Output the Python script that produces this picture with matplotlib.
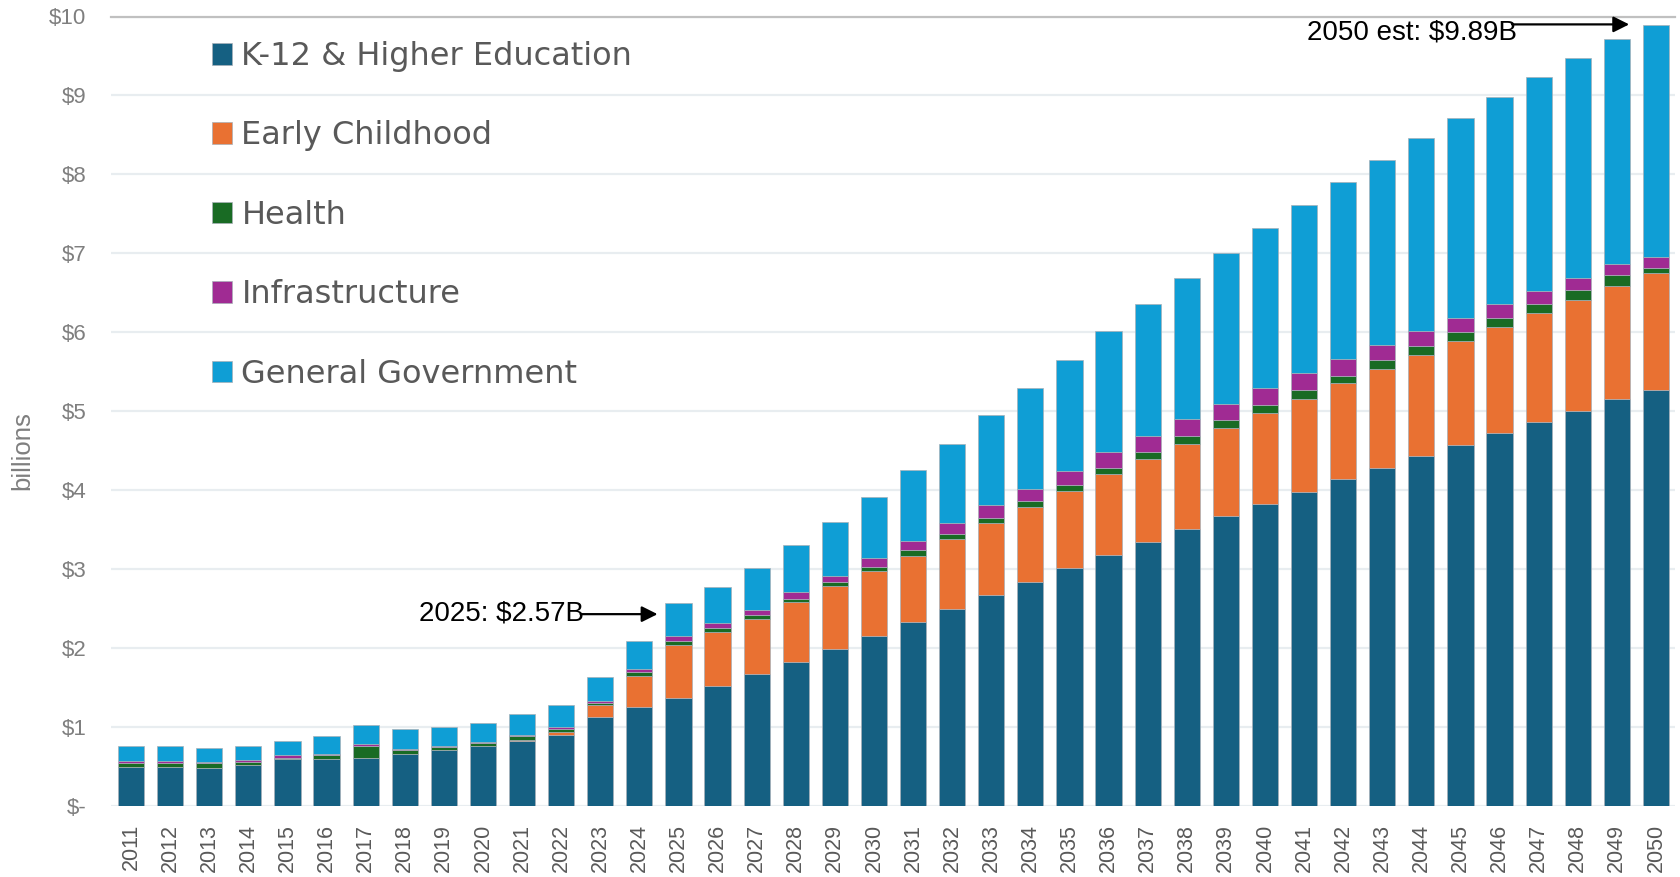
import numpy as np
import matplotlib
matplotlib.use('Agg')
import matplotlib.pyplot as plt

plt.rcParams['font.family'] = ['Liberation Sans', 'DejaVu Sans']

years = [str(y) for y in range(2011, 2051)]

# values in billions
k12 = [0.50, 0.50, 0.48, 0.52, 0.59, 0.59, 0.61, 0.66, 0.71, 0.76,
       0.82, 0.90, 1.13, 1.26, 1.37, 1.52, 1.67, 1.83, 1.99, 2.155,
       2.33, 2.49, 2.67, 2.835, 3.01, 3.18, 3.34, 3.51, 3.67, 3.83,
       3.98, 4.14, 4.285, 4.43, 4.575, 4.72, 4.87, 5.00, 5.15, 5.27]
early = [0, 0, 0, 0, 0, 0, 0, 0, 0, 0,
         0.02, 0.04, 0.15, 0.39, 0.67, 0.68, 0.70, 0.75, 0.80, 0.825,
         0.84, 0.89, 0.91, 0.955, 0.98, 1.02, 1.06, 1.08, 1.12, 1.15,
         1.18, 1.22, 1.245, 1.28, 1.315, 1.35, 1.38, 1.41, 1.44, 1.48]
health = [0.05, 0.05, 0.06, 0.04, 0.02, 0.05, 0.15, 0.05, 0.035, 0.035,
          0.045, 0.04, 0.02, 0.05, 0.05, 0.055, 0.05, 0.045, 0.05, 0.05,
          0.07, 0.07, 0.07, 0.07, 0.07, 0.085, 0.08, 0.10, 0.095, 0.10,
          0.11, 0.09, 0.12, 0.12, 0.12, 0.115, 0.11, 0.13, 0.13, 0.06]
infra = [0.02, 0.02, 0.02, 0.02, 0.03, 0.02, 0.02, 0.015, 0.015, 0.015,
         0.015, 0.015, 0.025, 0.03, 0.065, 0.06, 0.06, 0.085, 0.075, 0.115,
         0.115, 0.13, 0.16, 0.16, 0.185, 0.195, 0.21, 0.21, 0.21, 0.21,
         0.21, 0.215, 0.19, 0.19, 0.175, 0.175, 0.16, 0.15, 0.15, 0.15]
gen_gov = [0.19, 0.19, 0.18, 0.18, 0.18, 0.23, 0.24, 0.25, 0.24, 0.24,
           0.265, 0.28, 0.305, 0.36, 0.415, 0.455, 0.54, 0.60, 0.685, 0.765,
           0.895, 1.01, 1.14, 1.28, 1.405, 1.54, 1.67, 1.79, 1.915, 2.03,
           2.13, 2.235, 2.34, 2.44, 2.535, 2.62, 2.715, 2.79, 2.85, 2.93]

series = [('K-12 & Higher Education', k12, '#156082'),
          ('Early Childhood', early, '#E97132'),
          ('Health', health, '#196B24'),
          ('Infrastructure', infra, '#A02B93'),
          ('General Government', gen_gov, '#0F9ED5')]

yticks = [0, 1, 2, 3, 4, 5, 6, 7, 8, 9, 10]
ytick_labels = ['$-', '$1', '$2', '$3', '$4', '$5', '$6', '$7', '$8', '$9', '$10']

W, H = 1681, 877
fig = plt.figure(figsize=(W / 100, H / 100), dpi=100)
ax = fig.add_axes([111.5 / W, 1 - 806 / H, 1564 / W, (806 - 16.5) / H])

x = np.arange(len(years))
bw = 0.67
bottom = np.zeros(len(years))
handles = []
for name, vals, col in series:
    vals = np.array(vals)
    b = ax.bar(x, vals, bw, bottom=bottom, color=col, edgecolor='#a8b0b8',
               linewidth=0.5, label=name, zorder=3)
    handles.append(b)
    bottom += vals
total = bottom

ax.set_xlim(-0.5, len(years) - 0.5)
ax.set_ylim(0, 10)
ax.set_xticks(x)
ax.set_xticklabels(years, rotation=90, fontsize=15.5, color='#595959')
ax.set_yticks(yticks)
ax.set_yticklabels(ytick_labels, fontsize=16, color='#7f7f7f')
ax.tick_params(axis='both', length=0)
ax.tick_params(axis='y', pad=18)
ax.tick_params(axis='x', pad=13)
ax.yaxis.grid(True, color='#e8edf0', linewidth=1.6, zorder=0)
ax.set_axisbelow(True)
for s in ['left', 'right', 'bottom']:
    ax.spines[s].set_visible(False)
ax.spines['top'].set_color('#c0c0c0')
ax.spines['top'].set_linewidth(1.6)

ax.set_ylabel('billions', fontsize=18.5, color='#7f7f7f')
ax.yaxis.set_label_coords(-0.0496, 0.45)

leg = ax.legend(handles=handles, loc='upper left',
                bbox_to_anchor=(212 / W, 1 - 41 / H), bbox_transform=fig.transFigure,
                frameon=False, prop={'family': 'DejaVu Sans', 'size': 23},
                handlelength=0.62, handleheight=0.66, handletextpad=0.3,
                labelspacing=1.515, borderpad=0, borderaxespad=0)
for t in leg.get_texts():
    t.set_color('#595959')

# annotations
i25 = years.index('2025')
ax.annotate('', xy=(i25 - bw / 2 - 0.2, total[i25] - 0.14),
            xytext=(i25 - 2.5, total[i25] - 0.14),
            arrowprops=dict(arrowstyle='-|>', color='black', lw=1.6, mutation_scale=24,
                            shrinkA=0, shrinkB=0))
ax.text(i25 - 2.42, total[i25] - 0.13, '2025: $2.57B', fontsize=20,
        ha='right', va='center', color='black')

i50 = years.index('2050')
ax.annotate('', xy=(i50 - bw / 2 - 0.35, total[i50] + 0.01),
            xytext=(i50 - 3.68, total[i50] + 0.01),
            arrowprops=dict(arrowstyle='-|>', color='black', lw=1.6, mutation_scale=24,
                            shrinkA=0, shrinkB=0))
ax.text(i50 - 3.55, total[i50] - 0.09, '2050 est: $9.89B', fontsize=20,
        ha='right', va='center', color='black')

fig.savefig('out.png', dpi=100)
